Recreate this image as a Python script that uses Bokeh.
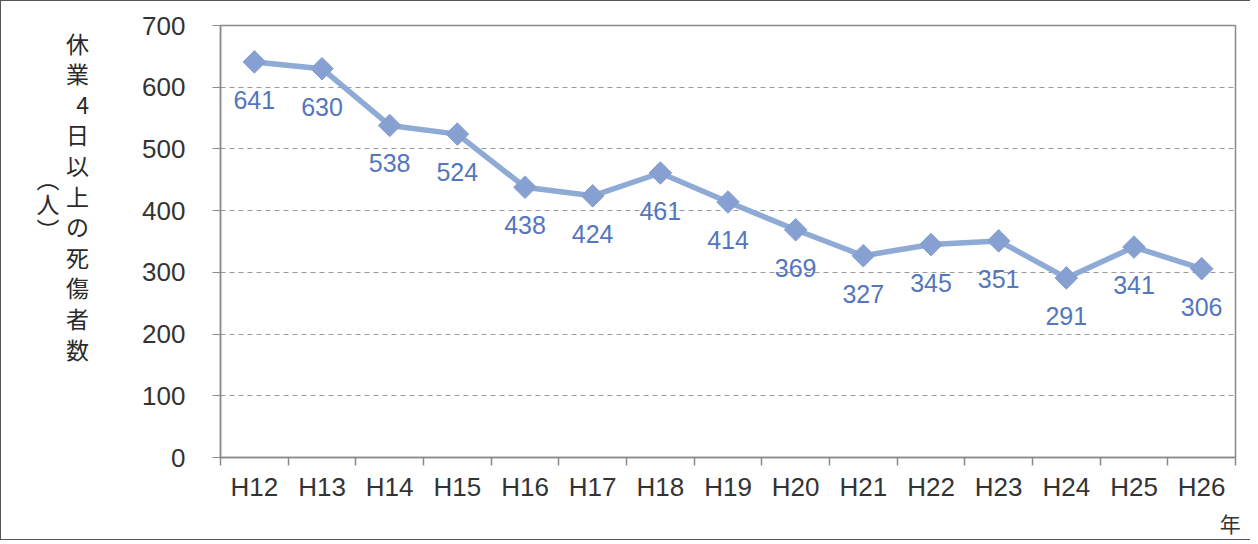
from bokeh.plotting import figure
from bokeh.models import Range1d, FixedTicker, ColumnDataSource, LabelSet, LinearAxis
from bokeh.core.properties import value
from bokeh.embed import file_html
from bokeh.resources import INLINE
import numpy as np

categories = ["H12", "H13", "H14", "H15", "H16", "H17", "H18", "H19", "H20",
              "H21", "H22", "H23", "H24", "H25", "H26"]
values = [641, 630, 538, 524, 438, 424, 461, 414, 369, 327, 345, 351, 291, 341, 306]
y_ticks = [0, 100, 200, 300, 400, 500, 600, 700]
y_title = "休業4日以上の死傷者数"
y_unit = "（人）"
x_unit = "年"

n = len(categories)
xs = [i + 0.5 for i in range(n)]

W, H = 1250, 540
p = figure(width=W, height=H, output_backend="svg", toolbar_location=None,
           x_range=Range1d(0, n), y_range=Range1d(0, 700),
           min_border_left=219, min_border_right=16, min_border_top=24, min_border_bottom=84)
p.styles = {"border-left": "1px solid #555", "border-top": "1px solid #555",
            "border-bottom": "1px solid #555"}
p.background_fill_color = "white"
p.border_fill_color = "white"
p.outline_line_color = "#8a8a8a"
p.outline_line_width = 1.5

# grid
p.xgrid.grid_line_color = None
p.ygrid.ticker = FixedTicker(ticks=y_ticks)
p.ygrid.grid_line_color = "#9a9a9a"
p.ygrid.grid_line_dash = "5 4"
p.ygrid.grid_line_width = 1

# y axis
pad = "\u3000"
p.yaxis.ticker = FixedTicker(ticks=y_ticks)
p.yaxis.axis_line_color = "#8a8a8a"
p.yaxis.axis_line_width = 1.5
p.yaxis.major_tick_line_color = "#8a8a8a"
p.yaxis.major_tick_out = 8
p.yaxis.major_tick_in = 0
p.yaxis.minor_tick_line_color = None
p.yaxis.major_label_standoff = 27
p.yaxis.major_label_text_font = "Liberation Sans"
p.yaxis.major_label_text_font_size = "26px"
p.yaxis.major_label_text_color = "#333333"
p.yaxis.axis_label = "\n".join(list(y_title) + [pad, pad, pad])
p.yaxis.axis_label_orientation = "horizontal"
p.yaxis.axis_label_text_font = "Noto Sans CJK JP"
p.yaxis.axis_label_text_font_size = "23px"
p.yaxis.axis_label_text_font_style = "normal"
p.yaxis.axis_label_text_line_height = 0.9
p.yaxis.axis_label_text_color = "#2a2a2a"
p.yaxis.axis_label_standoff = 50

# second (unit) axis on the left, label only
vert = {"（": "︵", "）": "︶"}
unit_axis = LinearAxis(ticker=FixedTicker(ticks=[]), axis_line_color=None,
                       major_tick_line_color=None, minor_tick_line_color=None,
                       major_label_text_font_size="0px", major_tick_out=0,
                       major_label_standoff=0,
                       axis_label="\n".join([vert.get(c, c) for c in y_unit] + [pad] * 3),
                       axis_label_orientation="horizontal",
                       axis_label_text_font="Noto Sans CJK JP",
                       axis_label_text_font_size="23px",
                       axis_label_text_font_style="normal",
                       axis_label_text_line_height=0.75,
                       axis_label_text_color="#2a2a2a",
                       axis_label_standoff=4)
p.add_layout(unit_axis, "left")

# x axis: labels at centers, ticks at boundaries
p.xaxis.ticker = FixedTicker(ticks=xs, minor_ticks=list(range(n + 1)))
p.xaxis.major_label_overrides = {x: c for x, c in zip(xs, categories)}
p.xaxis.axis_line_color = "#8a8a8a"
p.xaxis.axis_line_width = 1.5
p.xaxis.major_tick_line_color = None
p.xaxis.minor_tick_line_color = "#8a8a8a"
p.xaxis.minor_tick_line_width = 1.5
p.xaxis.minor_tick_out = 8
p.xaxis.minor_tick_in = 0
p.xaxis.major_label_standoff = 6
p.xaxis.major_label_text_font = "Liberation Sans"
p.xaxis.major_label_text_font_size = "26px"
p.xaxis.major_label_text_color = "#333333"
p.xaxis.axis_label = x_unit + "\u2002"
p.xaxis.axis_label_align = "end"
p.xaxis.axis_label_text_font = "Noto Sans CJK JP"
p.xaxis.axis_label_text_font_size = "21px"
p.xaxis.axis_label_text_font_style = "normal"
p.xaxis.axis_label_text_color = "#333333"
p.xaxis.axis_label_standoff = 3

src = ColumnDataSource(dict(x=xs, y=values, t=[str(v) for v in values]))
p.line("x", "y", source=src, line_color="#90aad6", line_width=5.5)
p.scatter("x", "y", source=src, marker="square", angle=np.pi / 4, size=16,
          fill_color="#86a0d2", line_color="#86a0d2")

labels = LabelSet(x="x", y="y", text="t", source=src, y_offset=-38,
                  text_align="center", text_baseline="middle",
                  text_font=value("Liberation Sans"), text_font_size=value("25px"),
                  text_color=value("#5476bd"))
p.add_layout(labels)

open("out.html", "w").write(file_html(p, INLINE))
